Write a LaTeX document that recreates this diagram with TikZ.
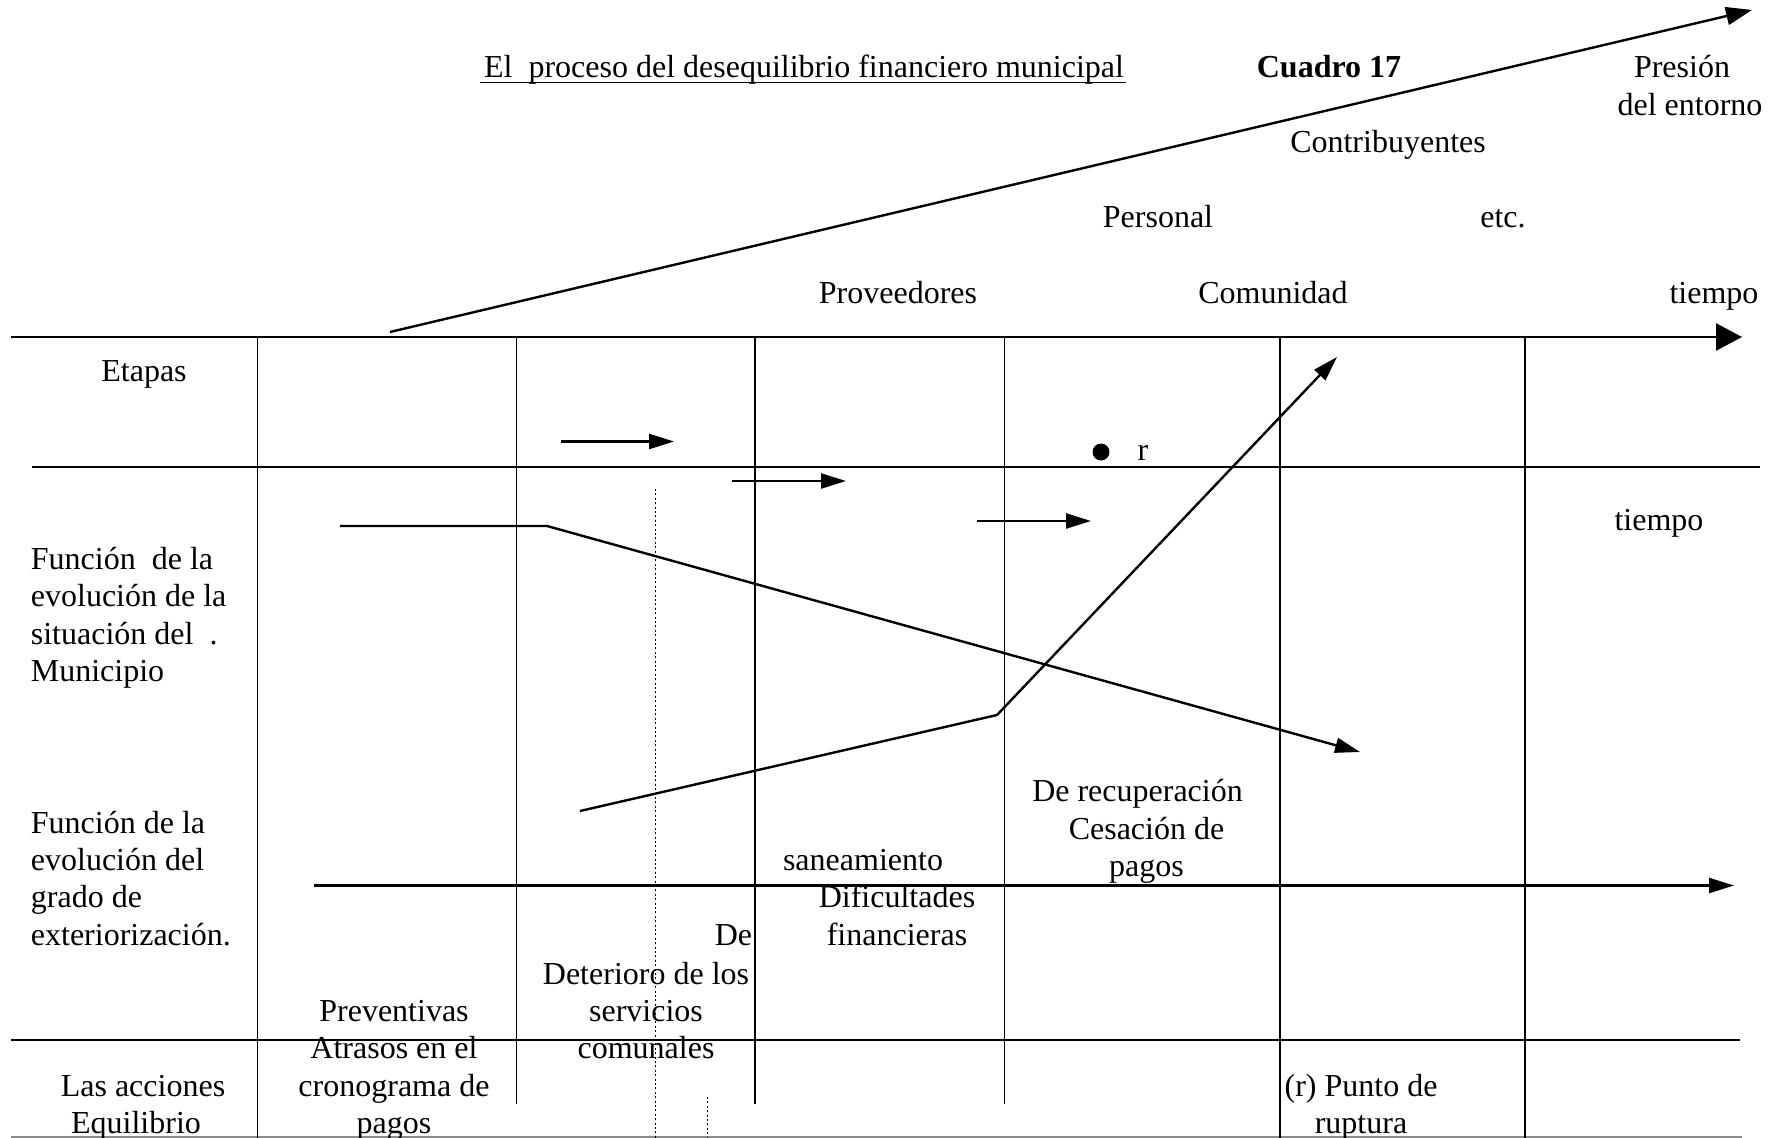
\documentclass[tikz,border=0pt]{standalone}
\usepackage{fontspec}
\setmainfont{Liberation Serif}
\usetikzlibrary{arrows.meta}
\begin{document}
\begin{tikzpicture}[x=0.5pt,y=-0.5pt,
  txt/.style={font=\fontsize{16}{18.75}\selectfont, inner sep=0pt, anchor=base},
  txtl/.style={txt, anchor=base west},
  hline/.style={line width=1.1pt},
  vline/.style={line width=0.75pt},
  arr/.style={line width=1.2pt, -{Triangle[length=12.5pt,width=7.5pt]}},
  bigarr/.style={line width=1.2pt, -{Triangle[length=13pt,width=13.5pt]}},
  dots/.style={line width=0.5pt, dash pattern=on 1pt off 1.2pt}]
\useasboundingbox (0,0) rectangle (1780,1138);

% ---------- coordinates ----------
\coordinate (h1a) at (11,337);   \coordinate (h1b) at (1742,337);
\coordinate (h2a) at (32,467);   \coordinate (h2b) at (1760,467);
\coordinate (h3a) at (314,885.5); \coordinate (h3b) at (1734,885.5);
\coordinate (h4a) at (11,1040);  \coordinate (h4b) at (1740,1040);
\coordinate (h5a) at (11,1137);  \coordinate (h5b) at (1742,1137);

\coordinate (v1a) at (257.5,337); \coordinate (v1b) at (257.5,1140);
\coordinate (v2a) at (516.5,337); \coordinate (v2b) at (516.5,1104);
\coordinate (v3a) at (755,337);   \coordinate (v3b) at (755,1104);
\coordinate (v4a) at (1004.5,337); \coordinate (v4b) at (1004.5,1104);
\coordinate (v5a) at (1280,337);  \coordinate (v5b) at (1280,1140);
\coordinate (v6a) at (1525,337);  \coordinate (v6b) at (1525,1140);

\coordinate (d1a) at (655,489);  \coordinate (d1b) at (655,1140);
\coordinate (d2a) at (707,1097); \coordinate (d2b) at (707,1140);

\coordinate (pa) at (390,332);   \coordinate (pb) at (1752,10);

\coordinate (s1a) at (561,441.5); \coordinate (s1b) at (674,441.5);
\coordinate (s2a) at (732,481);   \coordinate (s2b) at (846,481);
\coordinate (s3a) at (977,521);   \coordinate (s3b) at (1091,521);

\coordinate (fa) at (340,526);  \coordinate (fb) at (547,526); \coordinate (fc) at (1360,752);
\coordinate (ga) at (580,811);  \coordinate (gb) at (997,715); \coordinate (gc) at (1337,357);

\coordinate (ula) at (480,82.5); \coordinate (ulb) at (1126,82.5);

% ---------- lines ----------
\draw[bigarr] (h1a) -- (h1b);
\draw[hline] (h2a) -- (h2b);
\draw[arr] (h3a) -- (h3b);
\draw[hline] (h4a) -- (h4b);
\draw[hline, draw=black!45] (h5a) -- (h5b);

\draw[vline] (v1a) -- (v1b);
\draw[vline] (v2a) -- (v2b);
\draw[vline] (v3a) -- (v3b);
\draw[vline] (v4a) -- (v4b);
\draw[vline] (v5a) -- (v5b);
\draw[vline] (v6a) -- (v6b);

\draw[dots] (d1a) -- (d1b);
\draw[dots] (d2a) -- (d2b);

\draw[line width=1.2pt, -{Triangle[length=13pt,width=9pt]}] (pa) -- (pb);

\draw[arr] (s1a) -- (s1b);
\draw[arr] (s2a) -- (s2b);
\draw[arr] (s3a) -- (s3b);

\draw[arr, line join=miter] (fa) -- (fb) -- (fc);
\draw[arr] (ga) -- (gb) -- (gc);

\node[circle, fill, inner sep=0pt, minimum size=8.5pt] (dot) at (1101,452) {};

% ---------- texts ----------
\node[txt] (title) at (804,78) {El\ \ proceso del desequilibrio financiero municipal};
\draw[line width=0.8pt] (ula) -- (ulb);
\node[txt, font=\fontsize{16}{18.75}\selectfont\bfseries] (cuadro) at (1329,78) {Cuadro 17};
\node[txt] (presion) at (1682,78) {Presión};
\node[txt] (entorno) at (1690,116) {del entorno};
\node[txt] (contrib) at (1388,153) {Contribuyentes};
\node[txt] (personal) at (1158,228) {Personal};
\node[txt] (etc) at (1503,228) {etc.};
\node[txt] (prov) at (898,304) {Proveedores};
\node[txt] (comun) at (1273,304) {Comunidad};
\node[txt] (tiempo1) at (1714,304) {tiempo};

\node[txt] (etapas) at (144,381.5) {Etapas};
\node[txt] (r) at (1143,460) {r};
\node[txt] (tiempo2) at (1659,530) {tiempo};

\node[txtl] (f1a) at (30.5,569) {Función\ \ de la};
\node[txtl] (f1b) at (30.5,606.5) {evolución de la};
\node[txtl] (f1c) at (30.5,644) {situación del\ \ .};
\node[txtl] (f1d) at (30.5,681.5) {Municipio};

\node[txtl] (f2a) at (30.5,833) {Función de la};
\node[txtl] (f2b) at (30.5,870) {evolución del};
\node[txtl] (f2c) at (30.5,907) {grado de};
\node[txtl] (f2d) at (30.5,945) {exteriorización.};

\node[txt] (acc1) at (143,1096.5) {Las acciones};
\node[txt] (acc2) at (136,1133.5) {Equilibrio};

\node[txt] (prev) at (394,1021.5) {Preventivas};
\node[txt] (atr1) at (394,1058.5) {Atrasos en el};
\node[txt] (atr2) at (394,1096.5) {cronograma de};
\node[txt] (atr3) at (394,1133.5) {pagos};

\node[txt, anchor=base east] (de) at (752.5,945) {De};
\node[txt] (det1) at (646,984) {Deterioro de los};
\node[txt] (det2) at (646,1021.5) {servicios};
\node[txt] (det3) at (646,1058.5) {comunales};

\node[txt] (san) at (863,870) {saneamiento};
\node[txt] (dif1) at (897,907) {Dificultades};
\node[txt] (dif2) at (897,945) {financieras};

\node[txt] (rec) at (1137.5,801.5) {De recuperación};
\node[txt] (ces1) at (1146.5,839) {Cesación de};
\node[txt] (ces2) at (1146.5,876) {pagos};

\node[txt] (pun1) at (1361,1096.5) {(r) Punto de};
\node[txt] (pun2) at (1361,1133.5) {ruptura};
\end{tikzpicture}
\end{document}
